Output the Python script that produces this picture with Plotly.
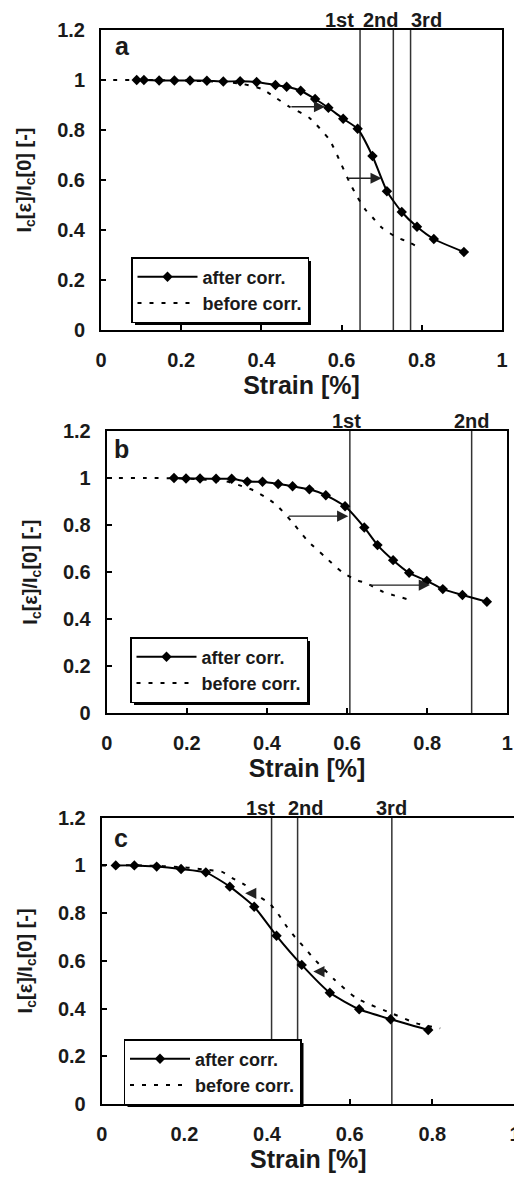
import plotly.graph_objects as go

# page body has an 8px default margin; figure sized to fill the rest of the window
OFF = 8
W, H = 522 - OFF, 1178 - OFF

# ---------------- data ----------------
a_after_x = [0.089, 0.107, 0.145, 0.183, 0.222, 0.264, 0.305, 0.347, 0.388, 0.435, 0.463, 0.498,
             0.534, 0.567, 0.604, 0.640, 0.677, 0.713, 0.750, 0.788, 0.830, 0.905]
a_after_y = [1.0, 1.0, 0.998, 0.998, 0.998, 0.997, 0.994, 0.995, 0.992, 0.980, 0.973, 0.957,
             0.924, 0.889, 0.845, 0.805, 0.696, 0.555, 0.472, 0.413, 0.364, 0.312]
a_before_x = [0, 0.1, 0.2, 0.3, 0.35, 0.4, 0.43, 0.47, 0.52, 0.57, 0.6, 0.62, 0.64, 0.66, 0.68,
              0.7, 0.735, 0.77, 0.8]
a_before_y = [1, 1, 0.998, 0.993, 0.985, 0.965, 0.935, 0.893, 0.848, 0.76, 0.66, 0.59, 0.53, 0.48,
              0.445, 0.41, 0.373, 0.349, 0.324]

b_after_x = [0.168, 0.198, 0.233, 0.273, 0.312, 0.351, 0.389, 0.428, 0.464, 0.506, 0.547, 0.595,
             0.643, 0.676, 0.715, 0.755, 0.799, 0.839, 0.888, 0.949]
b_after_y = [1.0, 0.998, 0.998, 0.997, 0.997, 0.985, 0.984, 0.975, 0.965, 0.952, 0.927, 0.880,
             0.790, 0.715, 0.651, 0.597, 0.563, 0.528, 0.503, 0.474]
b_before_x = [0, 0.1, 0.2, 0.3, 0.33, 0.366, 0.4, 0.424, 0.466, 0.5, 0.545, 0.587, 0.624, 0.65,
              0.69, 0.753]
b_before_y = [1, 1, 0.998, 0.985, 0.97, 0.948, 0.915, 0.885, 0.807, 0.736, 0.665, 0.601, 0.566,
              0.552, 0.516, 0.484]

c_after_x = [0.034, 0.079, 0.133, 0.192, 0.252, 0.310, 0.369, 0.423, 0.484, 0.552, 0.623, 0.699, 0.790]
c_after_y = [1.0, 1.0, 0.995, 0.985, 0.971, 0.911, 0.827, 0.705, 0.583, 0.466, 0.397, 0.355, 0.310]
c_before_x = [0, 0.1, 0.2, 0.25, 0.29, 0.317, 0.347, 0.375, 0.406, 0.427, 0.448, 0.468, 0.492,
              0.514, 0.564, 0.617, 0.706, 0.762, 0.819]
c_before_y = [1, 1, 0.992, 0.982, 0.974, 0.946, 0.918, 0.876, 0.841, 0.796, 0.743, 0.699, 0.653,
              0.608, 0.52, 0.443, 0.377, 0.338, 0.317]

a_lines = [0.646, 0.729, 0.772]
b_lines = [0.607, 0.911]
c_lines = [0.411, 0.474, 0.702]
line_labels = ["1st", "2nd", "3rd"]

# arrows: (tail x, y, head x)
a_arrows = [(0.471, 0.893, 0.559), (0.613, 0.607, 0.700)]
b_arrows = [(0.451, 0.838, 0.603), (0.653, 0.545, 0.807)]
c_arrows = [(0.375, 0.883, 0.347), (0.544, 0.555, 0.512)]

panel_letters = ["a", "b", "c"]
series_names = ["after corr.", "before corr."]
x_title = "Strain [%]"
y_title = "I<sub>c</sub>[ε]/I<sub>c</sub>[0] [-]"

# ---------------- layout helpers ----------------
FONT = "Liberation Sans, Arial, sans-serif"
TXT = "#1a1a1a"


def px_x(p):
    return (p - OFF) / W


def px_y(p):
    return 1 - (p - OFF) / H


# pixel boxes (window pixels): left, right, top, bottom
boxes = [(101, 502, 30, 330), (106.7, 507.3, 431, 713.3), (101.7, 515, 817.7, 1104)]
label_shifts = [[-21, -12, 16], [-3, 0], [-11, 8, 0]]
letter_off = [(21, 16), (15, 18), (19, 20)]
legend_boxes = [(131, 257), (130, 637), (123.5, 1039)]
LEG_W, LEG_H, SH = 176, 64, 4

panels = [
    (a_after_x, a_after_y, a_before_x, a_before_y, a_lines, a_arrows),
    (b_after_x, b_after_y, b_before_x, b_before_y, b_lines, b_arrows),
    (c_after_x, c_after_y, c_before_x, c_before_y, c_lines, c_arrows),
]

fig = go.Figure()
shapes = []
annotations = []
layout = {}

for i, (ax_, ay_, bx_, by_, vlines, arrows) in enumerate(panels):
    n = "" if i == 0 else str(i + 1)
    xa, ya = "x" + n, "y" + n
    leg = "legend" + n
    l, r, t, b = boxes[i]
    fig.add_trace(go.Scatter(
        x=ax_, y=ay_, mode="lines+markers", name=series_names[0],
        line=dict(color="black", width=2, shape="spline", smoothing=0.5),
        marker=dict(symbol="diamond", size=8, color="black"),
        xaxis=xa, yaxis=ya, legend=leg))
    fig.add_trace(go.Scatter(
        x=bx_, y=by_, mode="lines", name=series_names[1],
        line=dict(color="black", width=2, dash="4px,8px", shape="spline", smoothing=0.6),
        xaxis=xa, yaxis=ya, legend=leg))

    axis_common = dict(showline=True, linewidth=2, linecolor="black", mirror=True,
                       ticks="inside", ticklen=5, tickwidth=1.5, tickcolor="black",
                       showgrid=False, zeroline=False, automargin=False,
                       tickfont=dict(family=FONT, size=20, color=TXT, weight="bold"))
    layout["xaxis" + n] = dict(axis_common, domain=[px_x(l), px_x(r)], range=[0, 1], dtick=0.2,
                               anchor=ya, ticklabelstandoff=11,
                               title=dict(text=x_title, standoff=6,
                                          font=dict(family=FONT, size=25, color=TXT, weight="bold")))
    layout["yaxis" + n] = dict(axis_common, domain=[px_y(b), px_y(t)], range=[0, 1.2], dtick=0.2,
                               anchor=xa, ticklabelstandoff=10,
                               title=dict(text=y_title, standoff=20,
                                          font=dict(family=FONT, size=20, color=TXT, weight="bold")))
    lx, ly = legend_boxes[i]
    layout[leg] = dict(x=px_x(lx), y=px_y(ly), xanchor="left", yanchor="top",
                       bgcolor="white", bordercolor="black", borderwidth=1.5,
                       font=dict(family=FONT, size=18, color=TXT, weight="bold"),
                       tracegroupgap=0, itemwidth=60)
    # legend drop shadow
    shapes.append(dict(type="rect", xref="paper", yref="paper",
                       x0=px_x(lx + SH), x1=px_x(lx + LEG_W + SH),
                       y0=px_y(ly + LEG_H + SH), y1=px_y(ly + SH),
                       fillcolor="black", line=dict(width=0), layer="above"))

    for j, xv in enumerate(vlines):
        shapes.append(dict(type="line", xref=xa, yref=ya + " domain", x0=xv, x1=xv, y0=0, y1=1,
                           line=dict(color="#333", width=1.5), layer="below"))
        annotations.append(dict(text=line_labels[j], xref=xa, yref=ya + " domain", x=xv, y=1,
                                xanchor="center", yanchor="bottom", xshift=label_shifts[i][j],
                                yshift=-3, showarrow=False,
                                font=dict(family=FONT, size=20, color=TXT, weight="bold")))
    for (tx, yv, hx) in arrows:
        annotations.append(dict(x=hx, y=yv, ax=tx, ay=yv, xref=xa, yref=ya, axref=xa, ayref=ya,
                                text="", showarrow=True, arrowhead=2, arrowsize=1.6,
                                arrowwidth=1.4, arrowcolor="#222"))
    dx, dy = letter_off[i]
    annotations.append(dict(text=panel_letters[i], xref=xa + " domain", yref=ya + " domain",
                            x=0, y=1, xshift=dx, yshift=-dy, xanchor="center", yanchor="middle",
                            showarrow=False,
                            font=dict(family=FONT, size=25, color=TXT, weight="bold")))

fig.update_layout(
    width=W, height=H, margin=dict(l=0, r=0, t=0, b=0),
    paper_bgcolor="white", plot_bgcolor="white", showlegend=True,
    shapes=shapes, annotations=annotations, **layout)

fig.write_html("out.html")
